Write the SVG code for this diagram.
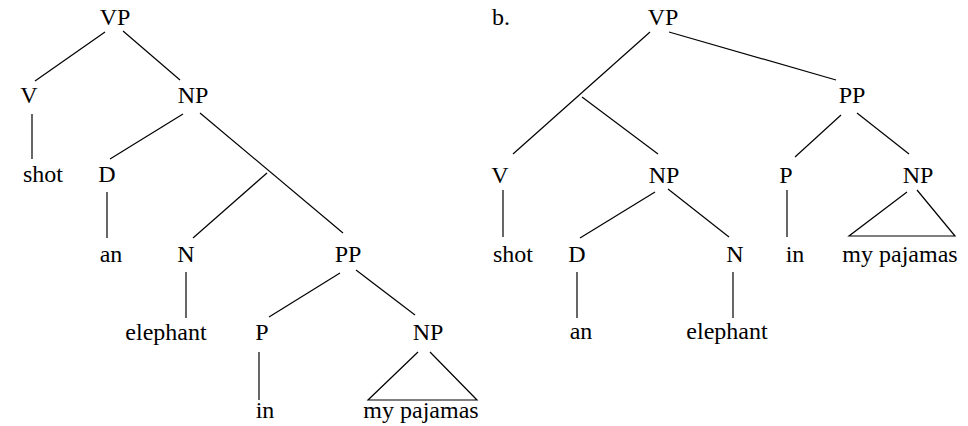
<svg xmlns="http://www.w3.org/2000/svg" width="968" height="426" viewBox="0 0 968 426">
  <style>
    .edge { stroke: #000; stroke-width: 1.2; fill: none; }
  </style>
  <rect width="968" height="426" fill="#fff"/>

  <g id="connectors">
    <!-- tree (a) -->
    <line class="edge" x1="105" y1="32" x2="35" y2="81"/>
    <line class="edge" x1="123" y1="31" x2="180" y2="80"/>
    <line class="edge" x1="32" y1="114" x2="32" y2="159"/>
    <line class="edge" x1="183" y1="114" x2="110" y2="159"/>
    <line class="edge" x1="200" y1="113" x2="343" y2="233"/>
    <line class="edge" x1="267" y1="173" x2="193" y2="238"/>
    <line class="edge" x1="107" y1="192" x2="107" y2="238"/>
    <line class="edge" x1="186" y1="272" x2="186" y2="318"/>
    <line class="edge" x1="340" y1="273" x2="269" y2="317"/>
    <line class="edge" x1="356" y1="270" x2="415" y2="315"/>
    <line class="edge" x1="259" y1="352" x2="259" y2="400"/>
    <polyline class="edge" points="418,352 368,400 477,400 430,352"/>

    <!-- tree (b) -->
    <line class="edge" x1="650" y1="32" x2="513" y2="154"/>
    <line class="edge" x1="582" y1="97" x2="658" y2="154"/>
    <line class="edge" x1="669" y1="32" x2="836" y2="80"/>
    <line class="edge" x1="841" y1="115" x2="795" y2="157"/>
    <line class="edge" x1="857" y1="113" x2="909" y2="154"/>
    <line class="edge" x1="503" y1="190" x2="503" y2="237"/>
    <line class="edge" x1="655" y1="192" x2="580" y2="238"/>
    <line class="edge" x1="668" y1="189" x2="729" y2="237"/>
    <line class="edge" x1="787" y1="190" x2="787" y2="237"/>
    <polyline class="edge" points="907,192 849,236 955,236 917,190"/>
    <line class="edge" x1="577" y1="272" x2="577" y2="318"/>
    <line class="edge" x1="733" y1="272" x2="733" y2="318"/>
  </g>

  <g font-family="Liberation Serif, DejaVu Serif, serif" font-size="24" fill="#000" text-anchor="middle">
    <!-- tree (a) nodes -->
    <g id="a-vp"><text x="115" y="25">VP</text></g>
    <g id="a-v"><text x="29" y="103">V</text></g>
    <g id="a-np1"><text x="193" y="103">NP</text></g>
    <g id="a-shot"><text x="43" y="182">shot</text></g>
    <g id="a-d"><text x="107" y="182">D</text></g>
    <g id="a-an"><text x="111" y="262">an</text></g>
    <g id="a-n"><text x="186" y="262">N</text></g>
    <g id="a-pp"><text x="348" y="262">PP</text></g>
    <g id="a-elephant"><text x="166" y="340">elephant</text></g>
    <g id="a-p"><text x="262" y="340">P</text></g>
    <g id="a-np2"><text x="428" y="340">NP</text></g>
    <g id="a-in"><text x="265" y="418">in</text></g>
    <g id="a-pajamas"><text x="421" y="418">my pajamas</text></g>

    <!-- tree (b) nodes -->
    <g id="b-label"><text x="492" y="25" text-anchor="start">b.</text></g>
    <g id="b-vp"><text x="663" y="25">VP</text></g>
    <g id="b-pp"><text x="852" y="103">PP</text></g>
    <g id="b-v"><text x="500" y="183">V</text></g>
    <g id="b-np1"><text x="664" y="183">NP</text></g>
    <g id="b-p"><text x="786" y="183">P</text></g>
    <g id="b-np2"><text x="918" y="183">NP</text></g>
    <g id="b-shot"><text x="513" y="262">shot</text></g>
    <g id="b-d"><text x="577" y="262">D</text></g>
    <g id="b-n"><text x="735" y="262">N</text></g>
    <g id="b-in"><text x="795" y="262">in</text></g>
    <g id="b-pajamas"><text x="900" y="262">my pajamas</text></g>
    <g id="b-an"><text x="581" y="339">an</text></g>
    <g id="b-elephant"><text x="727" y="339">elephant</text></g>
  </g>
</svg>
